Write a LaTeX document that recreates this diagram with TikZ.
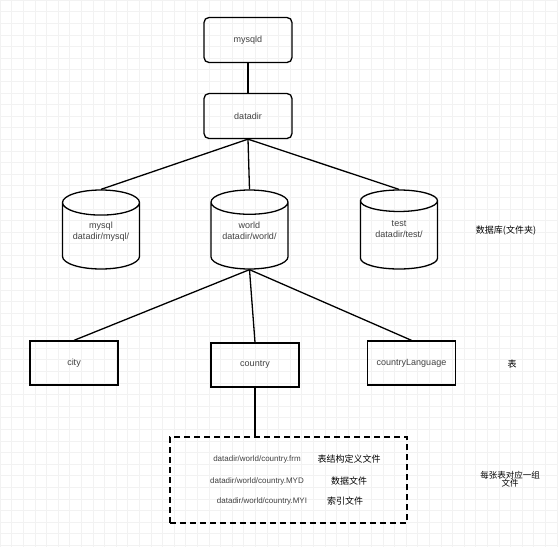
\documentclass[tikz,border=0pt]{standalone}
\usepackage{fontspec}
\setmainfont{Liberation Sans}
\newfontfamily\cjk{Noto Sans CJK SC}
\usetikzlibrary{shapes.geometric}

\tikzset{
  procbox/.style={rectangle, draw, rounded corners=5pt, line width=1.3pt, minimum width=88pt, minimum height=45pt, font=\fontsize{9}{11}\selectfont, text=black!75},
  dbcyl/.style={cylinder, shape border rotate=90, draw, aspect=0.4, anchor=shape center, line width=1.3pt, minimum width=77pt, minimum height=79pt, align=center, text depth=16pt, font=\fontsize{9}{11}\selectfont, text=black!75},
  tablebox/.style={rectangle, draw, line width=1.3pt, minimum width=88pt, minimum height=44pt, font=\fontsize{9}{11}\selectfont, text=black!75},
  filebox/.style={rectangle, draw, dash pattern=on 6pt off 4pt, line width=1.5pt, minimum width=237pt, minimum height=86pt},
  pathtext/.style={font=\fontsize{8}{10}\selectfont, text=black!75},
  note/.style={font=\cjk\fontsize{9}{10}\selectfont, align=center},
  link/.style={line width=1.3pt},
}

\begin{document}
\begin{tikzpicture}[x=1pt, y=-1pt]
    \useasboundingbox (0,0) rectangle (558,547);
    % background grid
    \draw[black!5, step=11.6pt] (0,0) grid (558,547);

    % Nodes
    \node (mysqld) [procbox] at (248,40) {mysqld};
    \node (datadir) [procbox] at (248,116) {datadir};

    \node (mysqldb) [dbcyl] at (101,229.5) {mysql\\datadir/mysql/};
    \node (worlddb) [dbcyl] at (249.5,229.5) {world\\datadir/world/};
    \node (testdb) [dbcyl] at (399,229.5) {test\\datadir/test/};

    \node (city) [tablebox] at (74,363) {city};
    \node (country) [tablebox] at (255,365) {country};
    \node (countrylang) [tablebox] at (411.5,363) {countryLanguage};

    \node (files) [filebox] at (288.5,480) {};
    \node (frmpath) [pathtext] at (257,459) {datadir/world/country.frm};
    \node (frmnote) [note] at (349,459) {表结构定义文件};
    \node (mydpath) [pathtext] at (257,481) {datadir/world/country.MYD};
    \node (mydnote) [note] at (349,481) {数据文件};
    \node (myipath) [pathtext] at (262,501) {datadir/world/country.MYI};
    \node (myinote) [note] at (345,501) {索引文件};

    % Annotations
    \node (dblabel) [note] at (506,231) {数据库(文件夹)};
    \node (tablelabel) [note] at (512,364) {表};
    \node (filelabel) [note, font=\cjk\fontsize{8.5}{8.5}\selectfont] at (510,479) {每张表对应一组\\文件};

    % Connections
    \draw [link] (mysqld) -- (datadir);
    \draw [link] (datadir.south) -- (mysqldb.north);
    \draw [link] (datadir.south) -- (worlddb.north);
    \draw [link] (datadir.south) -- (testdb.north);

    \draw [link] (worlddb.south) -- (city.north);
    \draw [link] (worlddb.south) -- (country.north);
    \draw [link] (worlddb.south) -- (countrylang.north);

    \draw [link] (country.south) -- (country.south |- files.north);
\end{tikzpicture}
\end{document}
